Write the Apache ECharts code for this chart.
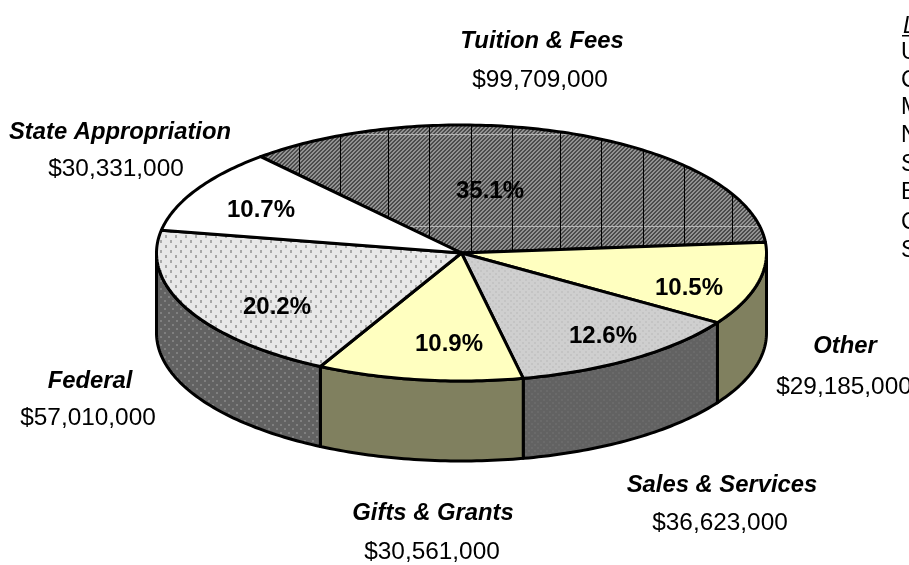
<!DOCTYPE html>
<html><head><meta charset="utf-8">
<style>html,body{margin:0;padding:0;background:#fff}#c{width:909px;height:565px}</style>
<script src="https://cdn.jsdelivr.net/npm/echarts@6/dist/echarts.min.js"></script>
</head><body><div id="c"></div>
<script>
// ---- data ----
const categories = ['Tuition & Fees','Other','Sales & Services','Gifts & Grants','Federal','State Appropriation'];
const shares = [35.1,10.5,12.6,10.9,20.2,10.7];
const dollars = ['$99,709,000','$29,185,000','$36,623,000','$30,561,000','$57,010,000','$30,331,000'];
const legendTitle = 'L';
const legendLetters = ['U','C','M','N','S','E','C','S'];

// ---- layout / style ----
const CX=461.5, CY=253, RX=305, RY=128, DEPTH=80, START=131.2;
const pctPos=[[490,191],[689,288],[603,336],[449,344],[277,307],[261,210]];
const namePos=[[542,41],[845,346],[722,485],[433,513],[90,381],[120,132]];
const valPos=[[540,80],[844,387],[720,523],[432,552],[88,418],[116,169]];
const legendY=[52,80,107,135,164,192,222,250];
const FONT='"Liberation Sans",Arial,sans-serif';

function tile(w,h,paint){
  const c=document.createElement('canvas');c.width=w;c.height=h;
  const g=c.getContext('2d');paint(g,w,h);
  return {image:c,repeat:'repeat'};
}
function dots(base,dot,w,h,dw,dh){
  return tile(w,h,(g)=>{
    g.fillStyle=base;g.fillRect(0,0,w,h);
    g.fillStyle=dot;
    g.fillRect(0,0,dw,dh);
    g.fillRect(w/2,h/2,dw,dh);
  });
}
const hatch=tile(172,92,(g,w,h)=>{
  for(let y=0;y<h;y++)for(let x=0;x<w;x++){
    g.fillStyle=((x+y)%4<2)?'#929292':'#4c4c4c';
    g.fillRect(x,y,1,1);
  }
  g.fillStyle='#b4b4b4';g.fillRect(0,42,w,1);
  g.fillStyle='#000';
  [44,85,127,168].forEach(x=>g.fillRect(x,0,1,h));
});
const topFill=[hatch,'#ffffc0',dots('#cfcfcf','#c4c4c4',6,6,2,2),'#ffffc0',dots('#e8e8e8','#a8a8a8',10,10,2,3),'#ffffff'];
const sideFill=['#666666','#80805f',dots('#626262','#6a6a6a',6,6,2,2),'#80805f',dots('#626262','#808080',8,8,2,2),'#ffffff'];

function pt(deg,dy){
  const r=deg*Math.PI/180;
  return [CX+RX*Math.cos(r),CY-RY*Math.sin(r)+(dy||0)];
}
function arc(from,to,dy){
  const out=[],n=Math.max(2,Math.ceil(Math.abs(from-to)));
  for(let i=0;i<=n;i++)out.push(pt(from+(to-from)*i/n,dy));
  return out;
}
const total=shares.reduce((a,b)=>a+b,0);

function renderSlice(params,api){
  const i=params.dataIndex;
  let a=START;
  for(let k=0;k<i;k++)a-=api.value(0,k)/total*360;
  const b=a-api.value(0)/total*360;
  const children=[];
  const stroke={stroke:'#000',lineWidth:3,lineJoin:'round'};
  const hi=Math.min(a,0),lo=Math.max(b,-180);
  if(hi>lo){
    const pts=arc(hi,lo,0).concat(arc(lo,hi,DEPTH));
    children.push({type:'polygon',shape:{points:pts},style:Object.assign({fill:sideFill[i]},stroke)});
  }
  children.push({type:'polygon',shape:{points:[[CX,CY]].concat(arc(a,b,0))},style:Object.assign({fill:topFill[i]},stroke)});
  return {type:'group',children};
}
function renderText(params,api){
  const i=params.dataIndex;
  const txt=(x,y,t,font)=>({type:'text',style:{x,y,text:t,font,fill:'#000',textAlign:'center',textVerticalAlign:'middle'}});
  return {type:'group',children:[
    txt(pctPos[i][0],pctPos[i][1],api.value(0).toFixed(1)+'%','bold 24px '+FONT),
    txt(namePos[i][0],namePos[i][1],categories[i],'italic bold 23.8px '+FONT),
    txt(valPos[i][0],valPos[i][1],dollars[i],'24.4px '+FONT)
  ]};
}
const legendGraphic=[
  {type:'text',x:903,y:15,silent:true,style:{text:legendTitle,font:'italic 23px '+FONT,fill:'#000'}},
  {type:'rect',shape:{x:902,y:35,width:7,height:1.5},silent:true,style:{fill:'#000'}}
].concat(legendLetters.map((t,i)=>({type:'text',x:901,y:legendY[i]-11,silent:true,style:{text:t,font:'23px '+FONT,fill:'#000'}})));

const chart=echarts.init(document.getElementById('c'),null,{renderer:'canvas'});
chart.setOption({
  animation:false,
  backgroundColor:'#fff',
  graphic:legendGraphic,
  series:[
    {type:'custom',coordinateSystem:'none',silent:true,renderItem:renderSlice,data:shares.map(v=>[v]),z:2},
    {type:'custom',coordinateSystem:'none',silent:true,renderItem:renderText,data:shares.map(v=>[v]),z:3}
  ]
});
</script></body></html>
